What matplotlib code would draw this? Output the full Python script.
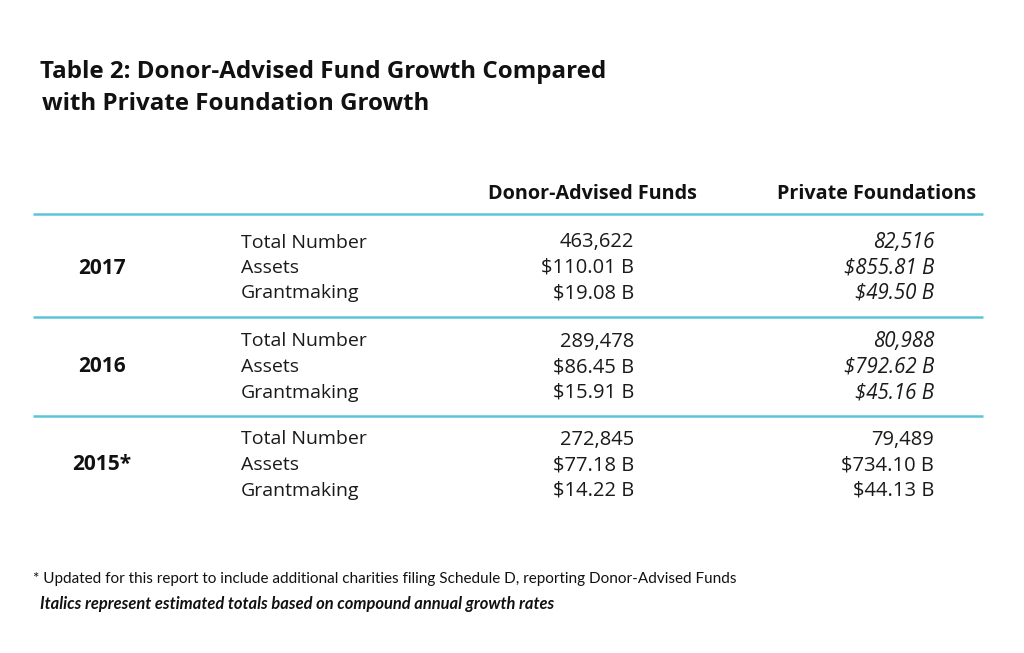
import matplotlib
matplotlib.use("Agg")
import matplotlib.pyplot as plt

title_lines = ["Table 2: Donor-Advised Fund Growth Compared", "with Private Foundation Growth"]
col_headers = ["Donor-Advised Funds", "Private Foundations"]
years = ["2017", "2016", "2015*"]
metrics = ["Total Number", "Assets", "Grantmaking"]
daf_values = [
    ["463,622", "$110.01 B", "$19.08 B"],
    ["289,478", "$86.45 B", "$15.91 B"],
    ["272,845", "$77.18 B", "$14.22 B"],
]
pf_values = [
    ["82,516", "$855.81 B", "$49.50 B"],
    ["80,988", "$792.62 B", "$45.16 B"],
    ["79,489", "$734.10 B", "$44.13 B"],
]
pf_italic = [True, True, False]
footnotes = [
    "* Updated for this report to include additional charities filing Schedule D, reporting Donor-Advised Funds",
    "Italics represent estimated totals based on compound annual growth rates",
]

W, H = 1024, 653
fig = plt.figure(figsize=(W / 100, H / 100), dpi=100)
ax = fig.add_axes([0, 0, 1, 1])
ax.set_xlim(0, W)
ax.set_ylim(H, 0)
ax.axis("off")

FONT = "Open Sans"
FOOT = "Lato"
line_color = "#5BC5D7"
txt = "#1a1a1a"

ax.text(40, 72, title_lines[0], fontsize=17.4, fontweight="bold", family=FONT, va="center", ha="left", color="#111")
ax.text(42, 104, title_lines[1], fontsize=17.4, fontweight="bold", family=FONT, va="center", ha="left", color="#111")

ax.text(697, 194, col_headers[0], fontsize=14.2, fontweight="bold", family=FONT, va="center", ha="right", color="#111")
ax.text(976, 194, col_headers[1], fontsize=14.2, fontweight="bold", family=FONT, va="center", ha="right", color="#111")

for yline in [214, 317, 416]:
    ax.plot([33, 983], [yline, yline], color=line_color, lw=1.8, solid_capstyle="butt")

group_centers = [268, 367, 465]
row_step = 25.5
for g, yc in enumerate(group_centers):
    ax.text(102, yc, years[g], fontsize=15, fontweight="bold", family=FONT, va="center", ha="center", color="#111")
    for r in range(3):
        y = yc + (r - 1) * row_step
        ax.text(241, y, metrics[r], fontsize=14, family=FONT, va="center", ha="left", color=txt)
        ax.text(634, y, daf_values[g][r], fontsize=14.5, family=FONT, va="center", ha="right", color=txt)
        ital = pf_italic[g]
        ax.text(934, y, pf_values[g][r], fontsize=14.8 if ital else 14.5, family=FONT, va="center",
                ha="right", color=txt, style="italic" if ital else "normal")

ax.text(33, 579, footnotes[0], fontsize=11, family=FOOT, va="center", ha="left", color="#111")
ax.text(40, 604, footnotes[1], fontsize=11.9, family=FOOT, va="center", ha="left", color="#111",
        fontweight="bold", style="italic")

fig.savefig("out.png", dpi=100, facecolor="white")
